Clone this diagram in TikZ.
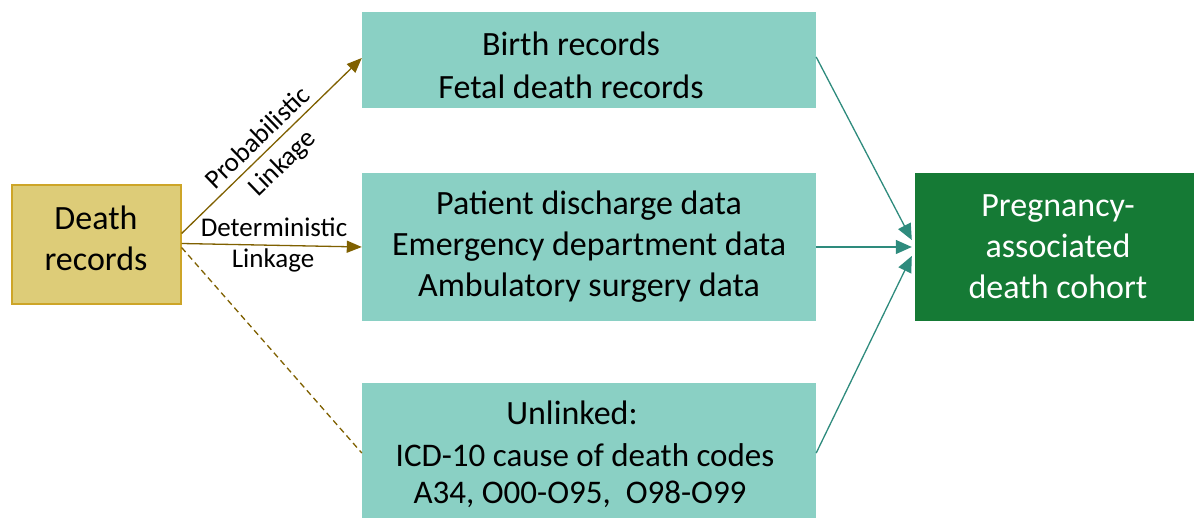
\documentclass[tikz,border=0pt]{standalone}
\usepackage{fontspec}
\setmainfont{Carlito}
\usetikzlibrary{arrows.meta}
\definecolor{deathfill}{RGB}{221,204,120}
\definecolor{deathdraw}{RGB}{205,165,40}
\definecolor{tealfill}{RGB}{138,208,196}
\definecolor{greenfill}{RGB}{21,122,53}
\definecolor{brownline}{RGB}{127,96,0}
\definecolor{tealline}{RGB}{46,139,125}
\tikzset{
  boxtext/.style={font=\fontsize{34}{41}\selectfont, align=center, inner sep=0pt},
  tealbox/.style={fill=tealfill, minimum width=454pt, inner sep=0pt},
  linklabel/.style={font=\fontsize{27}{30}\selectfont, align=center, inner sep=0pt},
  brownarrow/.style={draw=brownline, line width=1.3pt, -{Triangle[length=15pt,width=12pt]}},
  tealarrow/.style={draw=tealline, line width=1.3pt, -{Triangle[length=16pt,width=14pt]}},
}
\begin{document}
\begin{tikzpicture}[x=1pt,y=-1pt]
\useasboundingbox (0,0) rectangle (1194,518);
\node[fill=deathfill, draw=deathdraw, line width=1.2pt, minimum width=169pt, minimum height=119pt, inner sep=0pt] (death) at (96.5,244.5) {};
\node[tealbox, minimum height=96pt] (birth) at (589,60) {};
\node[tealbox, minimum height=148pt] (patient) at (589,247) {};
\node[tealbox, minimum height=135pt] (unlinked) at (589,450.5) {};
\node[fill=greenfill, minimum width=279pt, minimum height=148pt, inner sep=0pt] (preg) at (1054.5,247) {};
\node[boxtext] (deathtxt) at (96,238) {Death\\records};
\node[boxtext, font=\fontsize{34}{43}\selectfont] (birthtxt) at (571,65.5) {Birth records\\Fetal death records};
\node[boxtext] (patienttxt) at (589,246.5) {Patient discharge data\\Emergency department data\\Ambulatory surgery data};
\node[boxtext] (unl1) at (572,413) {Unlinked:};
\node[boxtext, font=\fontsize{33}{41}\selectfont] (unl2) at (585,455) {ICD-10 cause of death codes};
\node[boxtext, font=\fontsize{33}{41}\selectfont] (unl3) at (580,494) {A34, O00-O95,\ \ O98-O99};
\node[boxtext, text=white] (pregtxt) at (1058,246.5) {Pregnancy-\\associated\\death cohort};
\draw[brownarrow] ([yshift=11pt]death.east) -- ([yshift=2pt]birth.west);
\draw[brownarrow] ([yshift=1pt]death.east) -- (patient.west);
\draw[draw=brownline, line width=1.3pt, dash pattern=on 6pt off 4pt] ([yshift=-3pt]death.east) -- ([yshift=-2.5pt]unlinked.west);
\draw[tealarrow] ([yshift=3pt]birth.east) -- ([xshift=-3pt,yshift=7pt]preg.west);
\draw[tealarrow] (patient.east) -- ([xshift=-3pt]preg.west);
\draw[tealarrow] ([yshift=-2.5pt]unlinked.east) -- ([xshift=-3pt,yshift=-9pt]preg.west);
\node[linklabel, rotate=44] (prob) at (257,137) {Probabilistic};
\node[linklabel, rotate=44] (plink) at (283,164) {Linkage};
\node[linklabel] (det) at (274,227) {Deterministic};
\node[linklabel] (dlink) at (273,260) {Linkage};
\end{tikzpicture}
\end{document}
